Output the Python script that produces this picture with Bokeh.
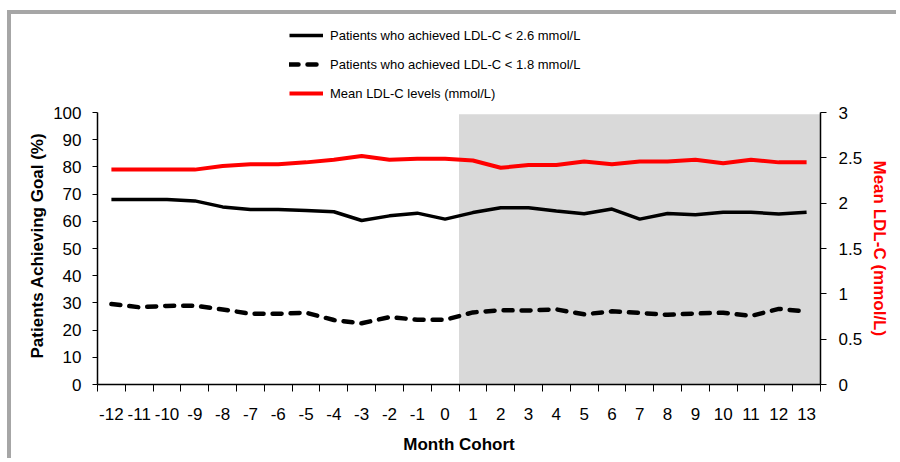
from bokeh.plotting import figure
from bokeh.models import (Range1d, LinearAxis, FixedTicker, NumeralTickFormatter,
                          BoxAnnotation, Legend, LegendItem, Title)
from bokeh.embed import file_html
from bokeh.resources import INLINE

months = [-12, -11, -10, -9, -8, -7, -6, -5, -4, -3, -2, -1, 0,
          1, 2, 3, 4, 5, 6, 7, 8, 9, 10, 11, 12, 13]
goal_26 = [68, 68, 68, 67.5, 65.3, 64.3, 64.3, 64, 63.5, 60.3, 62, 63, 60.8,
           63.2, 65, 65, 63.8, 62.8, 64.5, 60.8, 62.9, 62.4, 63.3, 63.3, 62.7, 63.3]
goal_18 = [29.6, 28.4, 28.9, 29, 27.6, 26, 26, 26.4, 23.7, 22.5, 24.8, 23.8, 23.8,
           26.5, 27.3, 27.2, 27.6, 25.8, 26.9, 26.3, 25.6, 26.1, 26.4, 25.2, 27.8, 26.8]
mean_ldl = [2.37, 2.37, 2.37, 2.37, 2.41, 2.43, 2.43, 2.45, 2.48, 2.52, 2.48, 2.49, 2.49,
            2.47, 2.39, 2.42, 2.42, 2.46, 2.43, 2.46, 2.46, 2.48, 2.44, 2.48, 2.45, 2.45]
shade_from = 0.5
left_ticks = [0, 10, 20, 30, 40, 50, 60, 70, 80, 90, 100]
right_ticks = [0, 0.5, 1, 1.5, 2, 2.5, 3]

FONT = "Liberation Sans"

# the frame reaches up to hold the legend; axes are bounded to their data span
AXIS_PX = 272.0   # pixel height of 0..100
FRAME_PX = 364.0  # pixel height of the whole frame
left_top = left_ticks[-1] * FRAME_PX / AXIS_PX
right_top = right_ticks[-1] * FRAME_PX / AXIS_PX

p = figure(width=889, height=448, output_backend="svg", toolbar_location=None,
           x_range=Range1d(months[0] - 0.5, months[-1] + 0.5),
           y_range=Range1d(0, left_top),
           min_border_left=86, min_border_right=80, min_border_top=6, min_border_bottom=78,
           styles={"margin-left": "7px", "margin-top": "10px",
                   "border-left": "4px solid #a6a6a6", "border-top": "4px solid #a6a6a6"})
p.extra_y_ranges = {"ldl": Range1d(0, right_top)}
p.xgrid.visible = False
p.ygrid.visible = False
p.outline_line_color = None
p.background_fill_color = "white"
p.border_fill_color = "white"

p.add_layout(BoxAnnotation(left=shade_from, right=months[-1] + 0.5, bottom=0, top=99.4,
                           fill_color="#d9d9d9", fill_alpha=1, line_color=None, level="underlay"))

r1 = p.line(months, goal_26, line_color="black", line_width=3.5)
r2 = p.line(months, goal_18, line_color="black", line_width=4.5, line_dash="9 9",
            line_cap="round")
r3 = p.line(months, mean_ldl, line_color="#ff0000", line_width=4, y_range_name="ldl")

# x axis
xa = p.xaxis[0]
xa.ticker = FixedTicker(ticks=months, minor_ticks=[m - 0.5 for m in months] + [months[-1] + 0.5])
xa.major_label_overrides = {m: str(m) for m in months}
xa.major_tick_out = 0
xa.major_tick_in = 0
xa.minor_tick_out = 7
xa.minor_tick_in = 0
xa.minor_tick_line_color = "black"
xa.axis_line_color = "black"
xa.axis_line_width = 1.5
xa.major_label_standoff = 16
xa.major_label_text_font = FONT
xa.major_label_text_font_size = "17px"
xa.major_label_text_color = "black"
xa.axis_label = "Month Cohort"
xa.axis_label_text_font = FONT
xa.axis_label_text_font_size = "17px"
xa.axis_label_text_font_style = "bold"
xa.axis_label_text_color = "black"
xa.axis_label_standoff = 12

# left axis
ya = p.yaxis[0]
ya.ticker = FixedTicker(ticks=left_ticks)
ya.bounds = (left_ticks[0], left_ticks[-1])
ya.minor_tick_line_color = None
ya.major_tick_out = 5
ya.major_tick_in = 0
ya.axis_line_color = "black"
ya.axis_line_width = 1.5
ya.major_label_standoff = 11
ya.major_label_text_font = FONT
ya.major_label_text_font_size = "17px"
ya.major_label_text_color = "black"

# right axis
ra = LinearAxis(y_range_name="ldl", ticker=FixedTicker(ticks=right_ticks),
                formatter=NumeralTickFormatter(format="0.[0]"),
                bounds=(right_ticks[0], right_ticks[-1]))
ra.minor_tick_line_color = None
ra.major_tick_out = 6
ra.major_tick_in = 0
ra.axis_line_color = "black"
ra.axis_line_width = 1.5
ra.major_label_standoff = 12
ra.major_label_text_font = FONT
ra.major_label_text_font_size = "17px"
ra.major_label_text_color = "black"
p.add_layout(ra, "right")

# axis titles as side titles so that they can be centred on the data span
lt = Title(text="Patients Achieving Goal (%)", align="left", offset=26,
           text_font=FONT, text_font_size="17px", text_font_style="bold",
           text_color="black", standoff=8)
p.add_layout(lt, "left")
rt = Title(text="Mean LDL-C (mmol/L)", align="left", offset=140,
           text_font=FONT, text_font_size="17px", text_font_style="bold",
           text_color="#ff0000", standoff=8)
p.add_layout(rt, "right")

legend = Legend(items=[
    LegendItem(label="Patients who achieved LDL-C < 2.6 mmol/L", renderers=[r1]),
    LegendItem(label="Patients who achieved LDL-C < 1.8 mmol/L", renderers=[r2]),
    LegendItem(label="Mean LDL-C levels (mmol/L)", renderers=[r3]),
], location=(192, 281), orientation="vertical")
legend.padding = 0
legend.margin = 0
legend.spacing = 9
legend.glyph_width = 34
legend.glyph_height = 20
legend.label_height = 20
legend.label_standoff = 7
legend.label_text_font = FONT
legend.label_text_font_size = "13px"
legend.label_text_color = "black"
legend.border_line_color = None
legend.background_fill_alpha = 0
p.add_layout(legend, "center")

open("out.html", "w").write(file_html(p, INLINE))
